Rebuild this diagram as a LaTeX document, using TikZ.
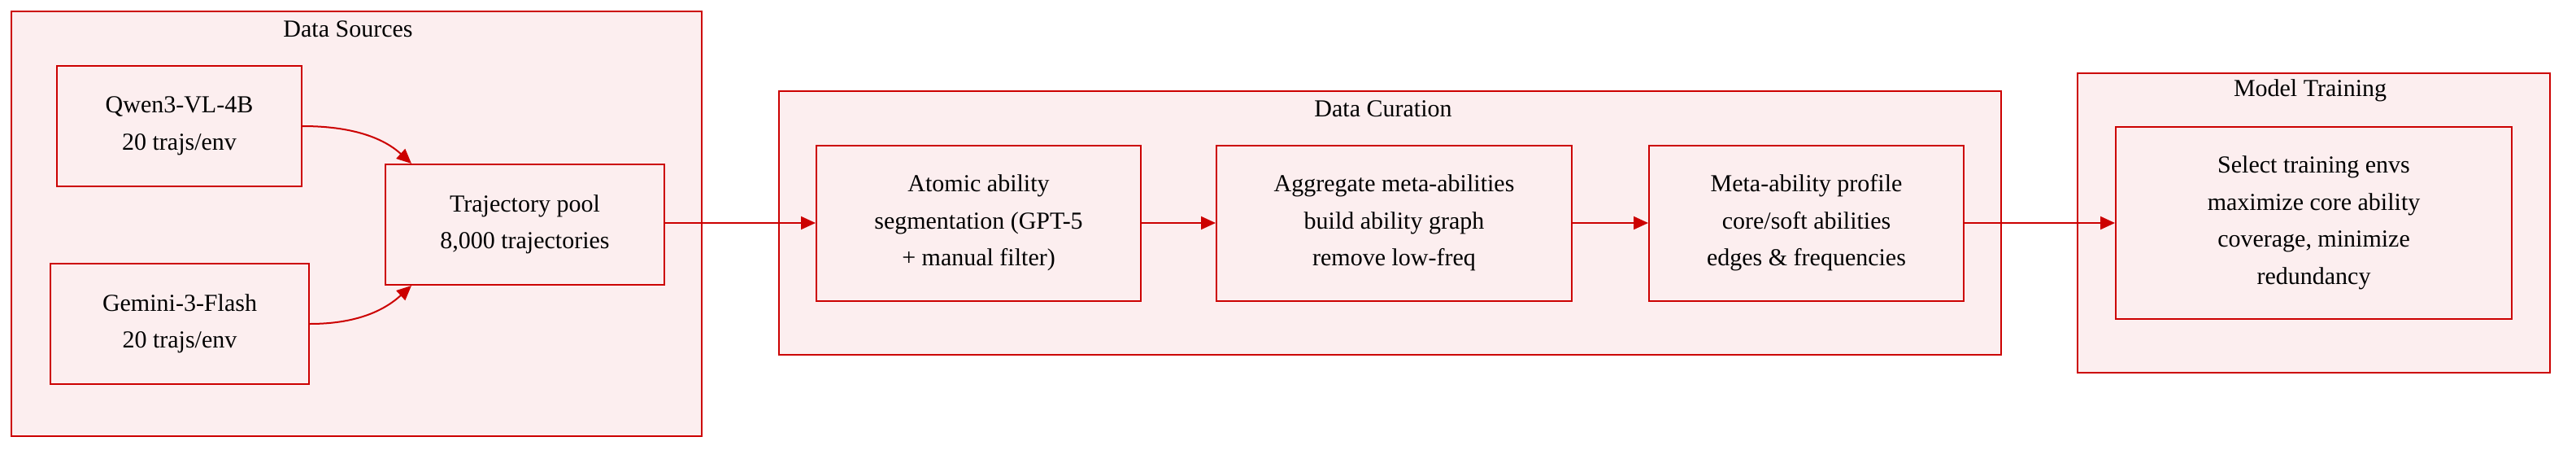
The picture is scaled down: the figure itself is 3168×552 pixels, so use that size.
\documentclass[tikz,border=0pt]{standalone}
\usepackage{fontspec}
\setmainfont{Liberation Serif}
\usetikzlibrary{arrows.meta}
\definecolor{bred}{HTML}{CC0000}
\definecolor{bfill}{HTML}{FCEEEF}
\begin{document}
\begin{tikzpicture}[x=1pt,y=-1pt,
  txt/.style={font=\fontsize{30}{45.5}\selectfont, align=center, text=black},
  cluster/.style={draw=bred, fill=bfill, line width=2pt},
  box/.style={draw=bred, fill=bfill, line width=2pt, rectangle, txt, inner sep=0pt},
  conn/.style={draw=bred, line width=2pt, -{Triangle[length=18pt,width=16pt]}}
]
\useasboundingbox (0,0) rectangle (3168,552);
% clusters
\path[cluster] (14,14) rectangle (863,536);
\node[txt] (tds) at (428,36) {Data Sources};
\path[cluster] (958,112) rectangle (2461,436);
\node[txt] (tdc) at (1701,134) {Data Curation};
\path[cluster] (2555,90) rectangle (3136,458);
\node[txt] (tmt) at (2841,111) {Model Training};
% nodes
\node[box, minimum width=301pt, minimum height=148pt] (qwen) at (220.5,155) {Qwen3-VL-4B\\20 trajs/env};
\node[box, minimum width=318pt, minimum height=148pt] (gem) at (221,398) {Gemini-3-Flash\\20 trajs/env};
\node[box, minimum width=343pt, minimum height=148pt] (pool) at (645.5,276) {Trajectory pool\\8,000 trajectories};
\node[box, minimum width=399pt, minimum height=191pt] (atom) at (1203.5,274) {Atomic ability\\segmentation (GPT-5\\+ manual filter)};
\node[box, minimum width=437pt, minimum height=191pt] (aggr) at (1714.5,274) {Aggregate meta-abilities\\build ability graph\\remove low-freq};
\node[box, minimum width=387pt, minimum height=191pt] (meta) at (2221.5,274) {Meta-ability profile\\core/soft abilities\\edges \& frequencies};
\node[box, minimum width=487pt, minimum height=236pt] (sel) at (2845.5,274) {Select training envs\\maximize core ability\\coverage, minimize\\redundancy};
% connectors
\coordinate (pt) at ([xshift=33pt]pool.north west);
\coordinate (pb) at ([xshift=33pt]pool.south west);
\draw[conn] (qwen.east) .. controls ([xshift=60pt]qwen.east) and ([xshift=-35pt,yshift=32pt]pt) .. (pt);
\draw[conn] (gem.east) .. controls ([xshift=55pt]gem.east) and ([xshift=-35pt,yshift=-32pt]pb) .. (pb);
\draw[conn] (pool.east |- atom.west) -- (atom.west);
\draw[conn] (atom.east) -- (aggr.west);
\draw[conn] (aggr.east) -- (meta.west);
\draw[conn] (meta.east) -- (sel.west);
\end{tikzpicture}
\end{document}
